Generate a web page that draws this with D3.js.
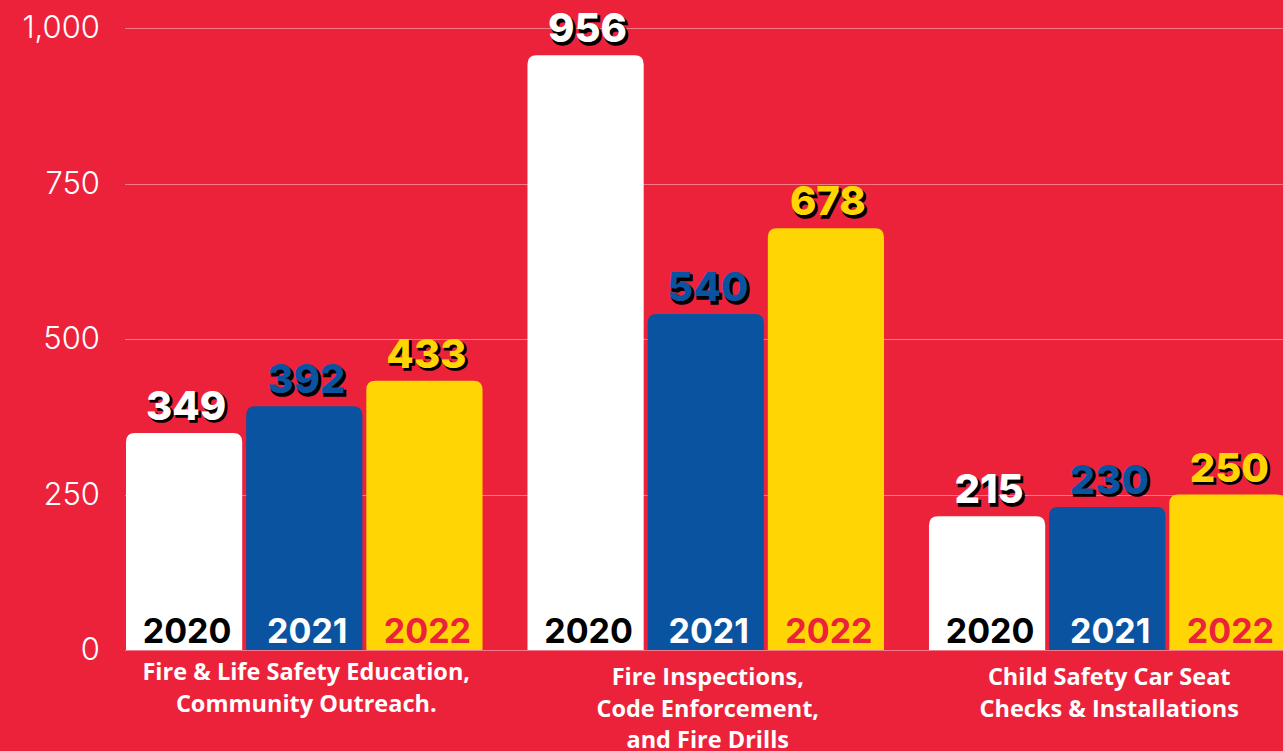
<!DOCTYPE html>
<html lang="en">
<head>
  <meta charset="utf-8">
  <title>Fire prevention activity 2020-2022</title>
  <script src="https://d3js.org/d3.v7.min.js"></script>
  <style>
    body { margin: 0; background: #ec223b; }
    svg { display: block; }
  </style>
</head>
<body>
  <div id="chart"></div>

  <script>
    "use strict"

    // data
    var categorias = [
      ["Fire & Life Safety Education,", "Community Outreach."],
      ["Fire Inspections,", "Code Enforcement,", "and Fire Drills"],
      ["Child Safety Car Seat", "Checks & Installations"]
    ];
    var anos = ["2020", "2021", "2022"];
    var v2020 = [349, 956, 215];
    var v2021 = [392, 540, 230];
    var v2022 = [433, 678, 250];
    var ticks = [0, 250, 500, 750, 1000];

    var largura = 1283, altura = 751;
    var corBarra = { "2020": "#ffffff", "2021": "#0a53a0", "2022": "#ffd604" };
    var corAno = { "2020": "#000000", "2021": "#ffffff", "2022": "#ec223b" };

    var series = { "2020": v2020, "2021": v2021, "2022": v2022 };

    var svg = d3.select("#chart").append("svg")
      .attr("width", largura)
      .attr("height", altura);

    var y = d3.scaleLinear().domain([0, 1000]).range([650, 28]);

    var x0 = d3.scaleBand()
      .domain(d3.range(categorias.length))
      .range([126, 1285.5])
      .paddingInner(0.112)
      .paddingOuter(0);

    var x1 = d3.scaleBand()
      .domain(anos)
      .range([0, x0.bandwidth()])
      .paddingInner(0.033);

    // grid + eixo
    svg.append("g").selectAll("line")
      .data(ticks)
      .join("line")
        .attr("x1", 125).attr("x2", largura)
        .attr("y1", d => Math.round(y(d)) + 0.5)
        .attr("y2", d => Math.round(y(d)) + 0.5)
        .attr("stroke", "rgba(255,255,255,0.4)")
        .attr("stroke-width", 1);

    var eixo = svg.append("g")
      .attr("transform", "translate(100,0)")
      .call(d3.axisLeft(y).tickValues(ticks).tickSize(0).tickPadding(0).tickFormat(d3.format(",")));
    eixo.select(".domain").remove();
    eixo.selectAll("text")
      .attr("fill", "#fff")
      .style("font-family", "Inter, sans-serif")
      .style("font-size", "31px")
      .style("font-weight", 300);

    function barraArredondada(x, yTopo, w, h, r) {
      r = Math.min(r, h);
      return "M" + x + "," + (yTopo + h) +
        "V" + (yTopo + r) +
        "Q" + x + "," + yTopo + " " + (x + r) + "," + yTopo +
        "H" + (x + w - r) +
        "Q" + (x + w) + "," + yTopo + " " + (x + w) + "," + (yTopo + r) +
        "V" + (yTopo + h) + "Z";
    }

    var linhas = [];
    categorias.forEach(function(c, i) {
      anos.forEach(function(a) {
        linhas.push({ cat: i, ano: a, valor: series[a][i] });
      });
    });

    var grupo = svg.append("g").selectAll("g")
      .data(linhas)
      .join("g")
        .attr("transform", d => "translate(" + (x0(d.cat) + x1(d.ano)) + ",0)");

    grupo.append("path")
      .attr("d", d => barraArredondada(0, y(d.valor), x1.bandwidth(), y(0) - y(d.valor), 9))
      .attr("fill", d => corBarra[d.ano]);

    // rotulos de valor com sombra
    var fonteValor = "Inter, sans-serif";
    grupo.append("text")
      .attr("x", x1.bandwidth() / 2 + 4)
      .attr("y", d => y(d.valor) - 13 + 2.5)
      .attr("text-anchor", "middle")
      .attr("fill", "#000")
      .attr("stroke", "#000")
      .attr("stroke-width", 1.5)
      .style("font-family", fonteValor)
      .style("font-size", "40px")
      .style("font-weight", 800)
      .text(d => d.valor);

    grupo.append("text")
      .attr("x", x1.bandwidth() / 2 + 2)
      .attr("y", d => y(d.valor) - 13)
      .attr("text-anchor", "middle")
      .attr("fill", d => corBarra[d.ano])
      .style("font-family", fonteValor)
      .style("font-size", "40px")
      .style("font-weight", 800)
      .text(d => d.valor);

    // anos dentro das barras
    grupo.append("text")
      .attr("x", x1.bandwidth() / 2 + 3)
      .attr("y", 643)
      .attr("text-anchor", "middle")
      .attr("fill", d => corAno[d.ano])
      .style("font-family", "Inter, sans-serif")
      .style("font-size", "34px")
      .style("font-weight", 700)
      .text(d => d.ano);

    // rotulos das categorias
    var catY = [680, 685, 685];
    svg.append("g").selectAll("text")
      .data(categorias)
      .join("text")
        .attr("x", (d, i) => x0(i) + x0.bandwidth() / 2 + 2)
        .attr("y", (d, i) => catY[i])
        .attr("text-anchor", "middle")
        .attr("fill", "#fff")
        .style("font-family", "'Open Sans', sans-serif")
        .style("font-size", "23.5px")
        .style("font-weight", 700)
        .selectAll("tspan")
        .data(d => d)
        .join("tspan")
          .attr("x", function() { return d3.select(this.parentNode).attr("x"); })
          .attr("dy", (d, j) => j === 0 ? 0 : 31.5)
          .text(d => d);
  </script>
</body>
</html>
